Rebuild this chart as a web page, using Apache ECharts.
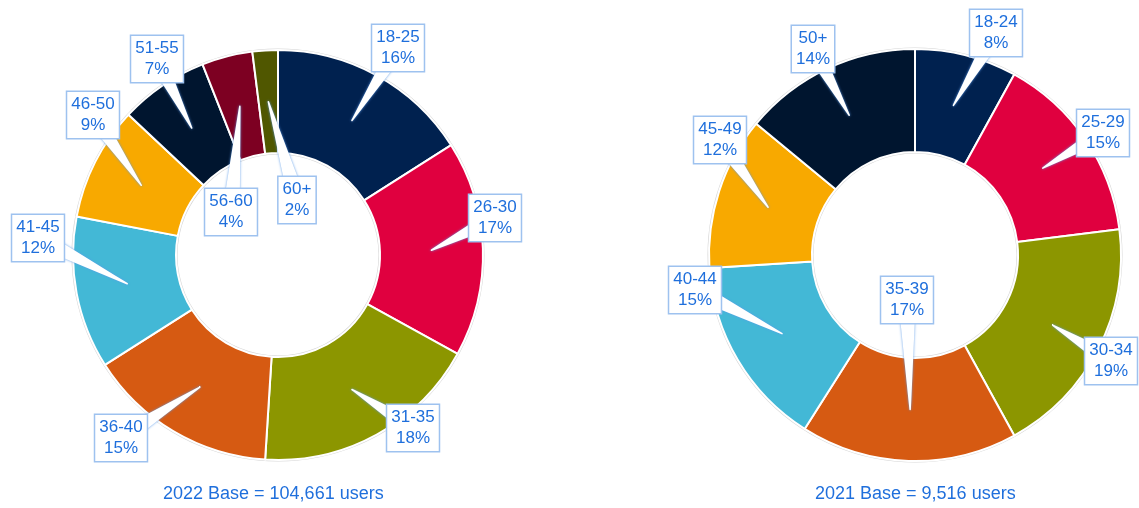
<!DOCTYPE html>
<html lang="en">
<head>
    <meta charset="UTF-8">
    <title>Age split</title>
    <script src="https://cdn.jsdelivr.net/npm/echarts@6/dist/echarts.min.js"></script>
</head>
<body style="margin:0;background:#fff;">
    <div id="main" style="width:1139px;height:508px;"></div>
<script>
    // 2022 survey
    var ages2022 = ['18-25', '26-30', '31-35', '36-40', '41-45', '46-50', '51-55', '56-60', '60+'];
    var share2022 = [16, 17, 18, 15, 12, 9, 7, 4, 2];
    var colors2022 = ['#00214f', '#e0003f', '#8c9600', '#d65a12', '#43b8d6', '#f8a900', '#00152f', '#7d0022', '#505700'];
    // 2021 survey
    var ages2021 = ['18-24', '25-29', '30-34', '35-39', '40-44', '45-49', '50+'];
    var share2021 = [8, 15, 19, 17, 15, 12, 14];
    var colors2021 = ['#00214f', '#e0003f', '#8c9600', '#d65a12', '#43b8d6', '#f8a900', '#00152f'];

    var titles = ['2022 Base = 104,661 users', '2021 Base = 9,516 users'];

    // callout box centres (px)
    var boxes2022 = [[398, 48], [495, 218], [413, 428], [121, 438], [38, 238], [93, 115], [157, 59], [231, 212], [297, 200]];
    var boxes2021 = [[996, 33], [1103, 133], [1111, 361], [907, 300], [695, 290], [720, 140], [813, 49]];

    var blue = '#1f6fdc';

    function toData(names, vals, cols) {
        var out = [];
        for (var i = 0; i < names.length; i++) {
            out.push({name: names[i], value: vals[i], itemStyle: cols ? {color: cols[i]} : undefined});
        }
        return out;
    }

    // white wedge from box centre to tip, drawn as a zigzag so it looks filled
    function wedge(tip, c) {
        var dx = tip[0] - c[0], dy = tip[1] - c[1];
        var len = Math.sqrt(dx * dx + dy * dy) || 1;
        var px = -dy / len, py = dx / len;
        var pts = [];
        for (var k = -8; k <= 8; k++) {
            pts.push([c[0] + px * k, c[1] + py * k]);
            pts.push([tip[0], tip[1]]);
        }
        return pts;
    }

    function donut(names, vals, cols, boxes, cx, cy, r0, r) {
        var mid = (r0 + r) / 2;
        return [
            {   // thin grey rim
                type: 'pie', silent: true, z: 1, center: [cx, cy], radius: [r0 - 1.5, r + 1.5],
                label: {show: false}, labelLine: {show: false},
                itemStyle: {color: '#d6d6d6'},
                data: [{value: 1}]
            },
            {
                type: 'pie', silent: true, z: 2, center: [cx, cy], radius: [r0, r],
                startAngle: 90, clockwise: true,
                label: {show: false}, labelLine: {show: false},
                itemStyle: {borderColor: '#fff', borderWidth: 2},
                data: toData(names, vals, cols)
            },
            {   // callouts, pointer tip sits on the ring middle
                type: 'pie', silent: true, z: 6, center: [cx, cy], radius: [0, mid],
                startAngle: 90, clockwise: true, avoidLabelOverlap: false,
                itemStyle: {color: 'rgba(0,0,0,0)'},
                label: {
                    show: true, position: 'outside',
                    formatter: '{b}\n{c}%',
                    color: blue, fontSize: 17, lineHeight: 21,
                    fontFamily: 'Liberation Sans, Arial, sans-serif',
                    backgroundColor: '#fff', borderColor: '#9ec2ef', borderWidth: 1.5,
                    padding: [3, 4, 1, 4], align: 'center'
                },
                labelLine: {
                    show: true, length: 0, length2: 0, smooth: false,
                    lineStyle: {color: '#ffffff', width: 1.5, shadowBlur: 2.5, shadowColor: '#5d9be8', cap: 'round', join: 'round'}
                },
                labelLayout: function (p) {
                    var c = boxes[p.dataIndex];
                    var tip = p.labelLinePoints ? p.labelLinePoints[0] : c;
                    return {
                        x: c[0], y: c[1], align: 'center', verticalAlign: 'middle',
                        labelLinePoints: wedge(tip, c)
                    };
                },
                data: toData(names, vals, null)
            }
        ];
    }

    var chart = echarts.init(document.getElementById('main'));
    var titleStyle = {color: blue, fontSize: 18, fontWeight: 'normal', fontFamily: 'Liberation Sans, Arial, sans-serif'};
    chart.setOption({
        animation: false,
        title: [
            {text: titles[0], left: 163, top: 485, padding: 0, textStyle: titleStyle},
            {text: titles[1], left: 815, top: 485, padding: 0, textStyle: titleStyle}
        ],
        series: donut(ages2022, share2022, colors2022, boxes2022, 278, 255, 102, 205)
            .concat(donut(ages2021, share2021, colors2021, boxes2021, 915, 255, 103, 206))
    });
</script>
</body>
</html>
